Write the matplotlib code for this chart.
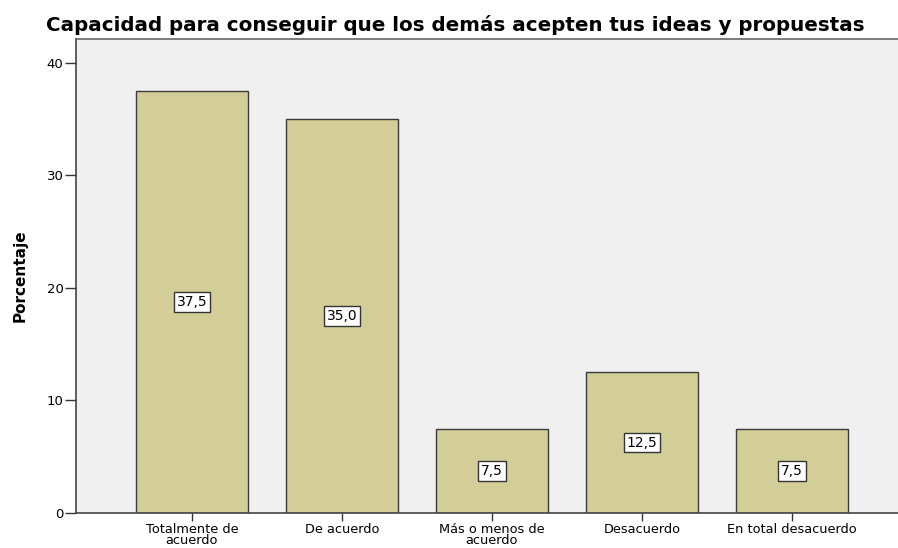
import matplotlib
matplotlib.use("Agg")
import matplotlib.pyplot as plt
import numpy as np

categorias = ["Totalmente de\nacuerdo", "De acuerdo", "Más o menos de\nacuerdo",
              "Desacuerdo", "En total desacuerdo"]
porcentajes = [37.5, 35.0, 7.5, 12.5, 7.5]
etiquetas = ["37,5", "35,0", "7,5", "12,5", "7,5"]
yticks = [0, 10, 20, 30, 40]

plt.rcParams['font.family'] = ['DejaVu Sans']

fig = plt.figure(figsize=(8.98, 5.48), dpi=100)
ax = fig.add_axes([0.0846, 0.0639, 0.9154, 0.8649])
ax.set_facecolor('#f0f0f0')

x = np.arange(len(categorias))
bars = ax.bar(x, porcentajes, width=0.75, color='#d3ce97', edgecolor='#3a3a3a', linewidth=1.0)

# value boxes at half height of each bar
for b, txt in zip(bars, etiquetas):
    ax.text(b.get_x() + b.get_width() / 2, b.get_height() / 2, txt,
            ha='center', va='center', fontsize=10,
            bbox=dict(boxstyle='square,pad=0.2', fc='white', ec='#333333', lw=1.0))

ax.set_xlim(-0.773, 4.707)
ax.set_ylim(0, 42.13)
ax.set_yticks(yticks)
ax.set_xticks(x)
ax.set_xticklabels(categorias, fontsize=9.3, linespacing=0.82)
ax.tick_params(axis='y', labelsize=9.5, length=8, width=1, color='#333333', pad=1)
ax.tick_params(axis='x', length=6, width=1, color='#333333', pad=1)

for side in ['left', 'bottom', 'top']:
    ax.spines[side].set_color('#444444')
    ax.spines[side].set_linewidth(1.2)
ax.spines['top'].set_color('#666666')
ax.spines['right'].set_visible(False)

ax.set_ylabel('Porcentaje', fontsize=11, fontweight='bold', labelpad=14)
ax.set_title('Capacidad para conseguir que los demás acepten tus ideas y propuestas',
             fontsize=14.3, fontweight='bold', pad=6, x=0.461)

fig.savefig('out.png', dpi=100)
